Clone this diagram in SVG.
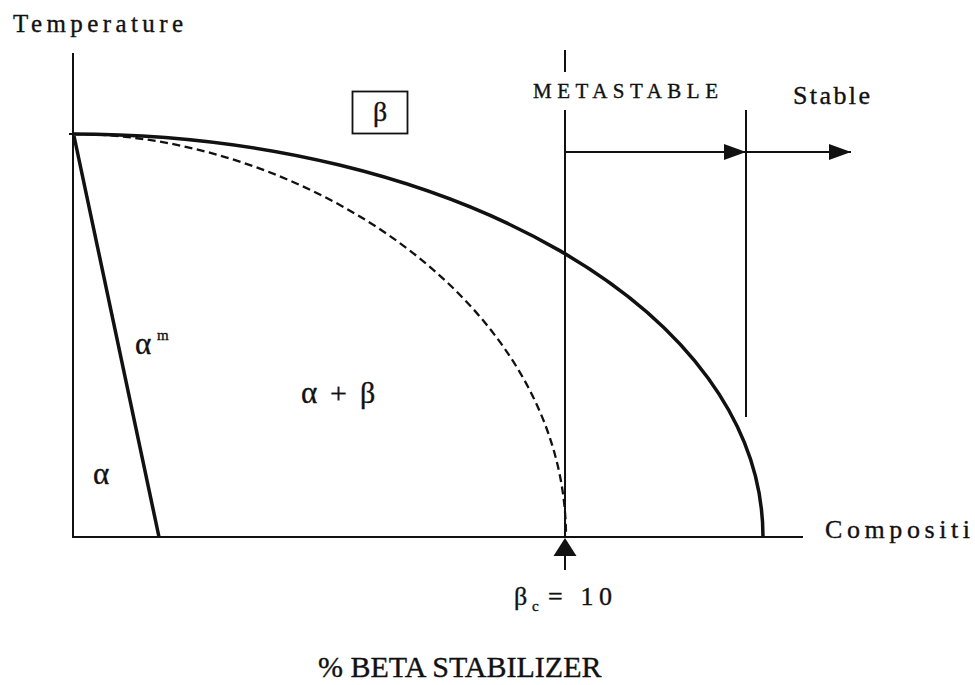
<svg xmlns="http://www.w3.org/2000/svg" width="975" height="685" viewBox="0 0 975 685">
<style>
.ln{stroke:#111;fill:none;stroke-width:2}
.thick{stroke:#111;fill:none;stroke-width:3.5}
.dash{stroke:#111;fill:none;stroke-width:2.3;stroke-dasharray:8 4.5}
.t{font-family:"Liberation Serif","Times New Roman",serif;fill:#111;stroke:#111;stroke-width:0.35}
</style>
<defs>
<marker id="ah" markerUnits="userSpaceOnUse" markerWidth="24" markerHeight="18" refX="22" refY="8" orient="auto">
<path d="M0,0 L22,8 L0,16 Z" fill="#111"/>
</marker>
</defs>
<rect width="975" height="685" fill="#fff"/>
<g id="axes">
<line class="ln" x1="73" y1="53" x2="73" y2="538"/>
<line class="ln" x1="72" y1="537" x2="803" y2="537"/>
<line class="ln" x1="69" y1="134" x2="76" y2="134"/>
</g>
<g id="curves">
<path class="thick" d="M72,134 C450,134 763,310 763,537"/>
<path class="dash" d="M73,134 C300,134 566,300 566,537"/>
<line class="thick" x1="74" y1="136" x2="159" y2="537" stroke-width="4"/>
</g>
<g id="connectors">
<line class="ln" x1="565" y1="50" x2="565" y2="72"/>
<line class="ln" x1="565" y1="110" x2="565" y2="537"/>
<line class="ln" x1="746" y1="110" x2="746" y2="417"/>
<line class="ln" x1="565" y1="152" x2="746" y2="152" marker-end="url(#ah)"/>
<line class="ln" x1="746" y1="152" x2="851" y2="152" marker-end="url(#ah)"/>
<line class="ln" x1="565" y1="553" x2="565" y2="570"/>
<path d="M565,538 L553.5,556 L576.5,556 Z" fill="#111"/>
</g>
<g id="label-temperature"><text class="t" x="13" y="32" font-size="25" textLength="170" lengthAdjust="spacing">Temperature</text></g>
<g id="label-metastable"><text class="t" x="533" y="98" font-size="21" textLength="185" lengthAdjust="spacing">METASTABLE</text></g>
<g id="label-stable"><text class="t" x="793" y="104" font-size="26" textLength="77" lengthAdjust="spacing">Stable</text></g>
<g id="label-composition"><text class="t" x="825" y="538" font-size="26" textLength="145" lengthAdjust="spacing">Compositi</text></g>
<g id="beta-box">
<rect x="352.5" y="91.5" width="55" height="42" fill="none" stroke="#111" stroke-width="1.8"/>
<text class="t" x="380" y="121" font-size="28" text-anchor="middle" stroke-width="0.2">β</text>
</g>
<g id="label-alpha-m"><text class="t" x="135" y="354" font-size="31" stroke-width="0.2">α</text><text class="t" x="157" y="340" font-size="15">m</text></g>
<g id="label-alpha-beta"><text class="t" x="301" y="403" font-size="31" stroke-width="0.2">α</text><text class="t" x="330" y="403" font-size="30" stroke-width="0.2">+</text><text class="t" x="360" y="403" font-size="30" stroke-width="0.2">β</text></g>
<g id="label-alpha"><text class="t" x="93" y="484" font-size="31" stroke-width="0.2">α</text></g>
<g id="label-betac"><text class="t" x="514" y="605" font-size="26" stroke-width="0.2">β</text><text class="t" x="532" y="611" font-size="15">c</text><text class="t" x="548" y="605" font-size="26" textLength="64" lengthAdjust="spacing">= 10</text></g>
<g id="label-xaxis"><text class="t" x="318" y="677" font-size="30" stroke-width="0.2">% BETA STABILIZER</text></g>
</svg>
